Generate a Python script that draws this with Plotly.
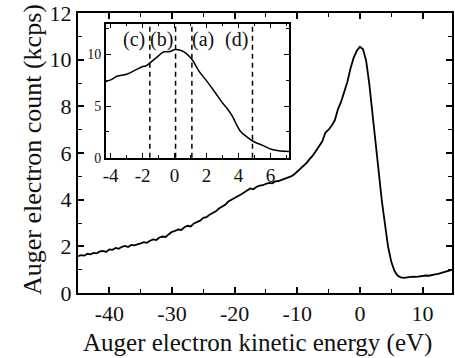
import plotly.graph_objects as go

# ---------------- data ----------------
# main spectrum: kinetic energy grid (eV), 0.5 eV step from -45 to 15
energy = [-45 + 0.5 * i for i in range(121)]
counts = [
    1.58, 1.62, 1.60, 1.68, 1.66, 1.72, 1.70, 1.78, 1.80, 1.76,
    1.87, 1.85, 1.93, 1.90, 1.98, 2.02, 1.97, 2.06, 2.04, 2.10,
    2.13, 2.18, 2.15, 2.24, 2.30, 2.27, 2.38, 2.42, 2.40, 2.52,
    2.62, 2.66, 2.72, 2.70, 2.82, 2.88, 2.85, 2.98, 3.05, 3.10,
    3.22, 3.25, 3.35, 3.42, 3.50, 3.62, 3.70, 3.78, 3.92, 4.00,
    4.10, 4.15, 4.22, 4.30, 4.38, 4.48, 4.45, 4.55, 4.60, 4.62,
    4.68, 4.72, 4.70, 4.78, 4.80, 4.85, 4.88, 4.92, 5.00, 5.08,
    5.20, 5.30, 5.45, 5.58, 5.75, 5.90, 6.10, 6.32, 6.50, 6.88,
    7.00, 7.18, 7.40, 7.88, 8.20, 8.62, 9.05, 9.62, 10.08, 10.38,
    10.55, 10.45, 9.95, 8.95, 7.65, 6.30, 5.05, 3.95, 2.95, 1.98,
    1.35, 0.95, 0.75, 0.67, 0.65, 0.67, 0.66, 0.70, 0.69, 0.72,
    0.73, 0.75, 0.74, 0.78, 0.80, 0.82, 0.86, 0.90, 0.93, 0.98,
    1.02,
]

# inset: smoothed spectrum near the peak
inset_energy = [-4.3, -4.0, -3.6, -3.0, -2.4, -2.0, -1.8, -1.5, -1.1, -0.7,
                -0.3, 0.05, 0.4, 0.7, 1.1, 1.5, 2.0, 2.5, 3.0, 3.3,
                3.6, 4.1, 4.5, 4.9, 5.5, 6.1, 6.6, 7.2]
inset_counts = [7.4, 7.55, 7.9, 8.1, 8.55, 8.85, 8.9, 9.25, 9.75, 10.25,
                10.3, 10.5, 10.4, 10.15, 9.5, 8.45, 7.45, 6.4, 5.3, 4.75,
                4.05, 2.6, 2.05, 1.6, 1.2, 0.8, 0.65, 0.6]

# marked energies in the inset
marker_labels = ["(c)", "(b)", "(a)", "(d)"]
marker_energies = [-1.55, 0.06, 1.08, 4.87]
label_energies = [-2.55, -0.83, 1.78, 3.9]

# tick labels
main_xticks = [-40, -30, -20, -10, 0, 10]
main_xtext = ["-40", "-30", "-20", "-10", "0", "10"]
main_yticks = [0, 2, 4, 6, 8, 10, 12]
main_ytext = ["0", "2", "4", "6", "8", "10", "12"]
inset_xticks = [-4, -2, 0, 2, 4, 6]
inset_xtext = ["-4", "-2", "0", "2", "4", "6"]
inset_yticks = [0, 5, 10]
inset_ytext = ["0", "5", "10"]

x_title = "Auger electron kinetic energy (eV)"
y_title = "Auger electron count (kcps)"

FONT = "Liberation Serif"
INK = "#111111"

fig = go.Figure()
fig.add_trace(go.Scatter(x=energy, y=counts, mode="lines",
                         line=dict(color="black", width=1.8),
                         xaxis="x", yaxis="y", showlegend=False))
fig.add_trace(go.Scatter(x=inset_energy, y=inset_counts, mode="lines",
                         line=dict(color="black", width=1.5, shape="spline"),
                         xaxis="x2", yaxis="y2", showlegend=False))

for e in marker_energies:
    fig.add_shape(type="line", xref="x2", yref="y2 domain",
                  x0=e, x1=e, y0=0, y1=1,
                  line=dict(color="black", width=1.5, dash="5px,4px"))
for lab, e in zip(marker_labels, label_energies):
    fig.add_annotation(x=e, y=11.45, xref="x2", yref="y2", text=lab,
                       showarrow=False, font=dict(family=FONT, size=20, color=INK))

# axis titles
fig.add_annotation(x=0.479, y=-0.18, xref="paper", yref="paper", text=x_title,
                   showarrow=False, xanchor="center", yanchor="middle",
                   font=dict(family=FONT, size=25, color=INK))
fig.add_annotation(x=-0.122, y=0.512, xref="paper", yref="paper", text=y_title,
                   showarrow=False, textangle=-90, xanchor="center", yanchor="middle",
                   font=dict(family=FONT, size=26, color=INK))

axis_common = dict(showgrid=False, zeroline=False, showline=True,
                   linecolor="black", mirror="allticks", ticks="inside",
                   tickcolor="black")

fig.update_layout(
    width=455, height=358,
    margin=dict(l=78, r=1, t=13, b=65),
    paper_bgcolor="white", plot_bgcolor="white",
    font=dict(family=FONT, color=INK),
    xaxis=dict(**axis_common, range=[-45, 14.7], linewidth=2,
               tickvals=main_xticks, ticktext=main_xtext, ticklen=6, tickwidth=1.6,
               minor=dict(dtick=5, tick0=0, ticklen=4, tickwidth=1.4, ticks="inside", tickcolor="black"),
               tickfont=dict(family=FONT, size=22, color=INK)),
    yaxis=dict(**axis_common, range=[0, 12], linewidth=2,
               tickvals=main_yticks, ticktext=main_ytext, ticklen=6, tickwidth=1.6,
               minor=dict(dtick=1, tick0=0, ticklen=4, tickwidth=1.4, ticks="inside", tickcolor="black"),
               tickfont=dict(family=FONT, size=22, color=INK)),
    xaxis2=dict(**axis_common, anchor="y2", domain=[0.0745, 0.564],
                range=[-4.3, 7.15], linewidth=1.6,
                tickvals=inset_xticks, ticktext=inset_xtext, ticklen=5, tickwidth=1.3,
                minor=dict(dtick=1, tick0=0, ticklen=3, tickwidth=1.2, ticks="inside", tickcolor="black"),
                tickfont=dict(family=FONT, size=19, color=INK)),
    yaxis2=dict(**axis_common, anchor="x2", domain=[0.483, 0.962],
                range=[0, 13], linewidth=1.6,
                tickvals=inset_yticks, ticktext=inset_ytext, ticklen=5, tickwidth=1.3,
                minor=dict(dtick=2.5, tick0=0, ticklen=3, tickwidth=1.2, ticks="inside", tickcolor="black"),
                tickfont=dict(family=FONT, size=14, color=INK)),
)

fig.write_html("out.html")
